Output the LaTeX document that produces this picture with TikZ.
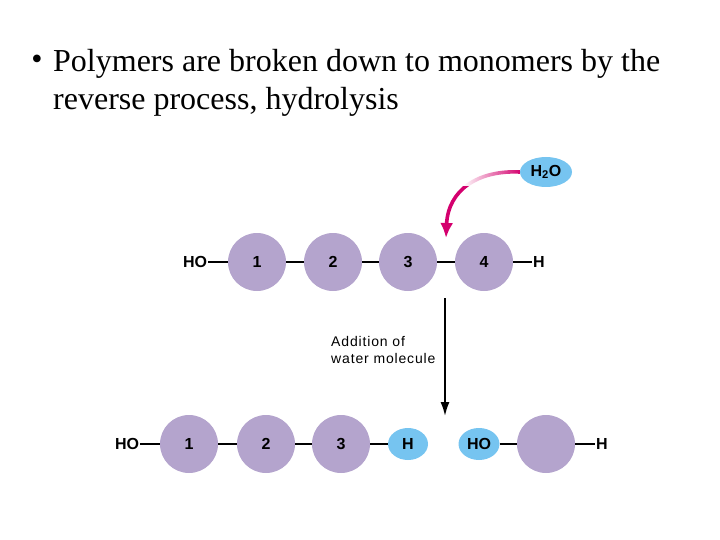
\documentclass[tikz,border=0pt]{standalone}
\usepackage{fontspec}
\setmainfont{Liberation Serif}
\newfontfamily\arialfont{Liberation Sans}
\newfontfamily\arialwide[LetterSpace=6]{Liberation Sans}
\usetikzlibrary{positioning, arrows.meta, shapes.geometric, fadings}
\definecolor{monolilac}{RGB}{180, 164, 205}
\definecolor{waterblue}{RGB}{118, 196, 240}
\definecolor{dropmagenta}{RGB}{212, 0, 110}

\begin{document}
\begin{tikzpicture}[x=1pt, y=-1pt,
        mono/.style={circle, fill=monolilac, minimum size=58pt, inner sep=0pt,
            font=\arialfont\bfseries\fontsize{16}{16}\selectfont},
        wbub/.style={ellipse, fill=waterblue, minimum width=41pt, minimum height=32pt,
            inner sep=0pt, font=\arialfont\bfseries\fontsize{16}{16}\selectfont},
        grp/.style={inner sep=1pt, font=\arialfont\bfseries\fontsize{16}{16}\selectfont},
        bond/.style={line width=1.2pt}
    ]
    \useasboundingbox (0,0) rectangle (720,540);

    % === Title ===
    \node[font=\fontsize{32}{38}\selectfont, inner sep=0pt] (dot) at (37,62) {\textbullet};
    \node[font=\fontsize{32}{38}\selectfont, inner sep=0pt, anchor=north west,
          align=left] (title) at (53,49)
        {Polymers are broken down to monomers by the\\reverse process, hydrolysis};

    % === Polymer (top row) ===
    \node[grp] (ho) at (195,262) {HO};
    \node[mono] (m1) at (257,262) {1};
    \node[mono] (m2) at (333,262) {2};
    \node[mono] (m3) at (408,262) {3};
    \node[mono] (m4) at (484,262) {4};
    \node[grp] (h) at (539,262) {H};
    \draw[bond] (ho) -- (m1);
    \draw[bond] (m1) -- (m2);
    \draw[bond] (m2) -- (m3);
    \draw[bond] (m3) -- (m4);
    \draw[bond] (m4) -- (h);

    % === Water coming in ===
    \node[wbub, minimum width=52pt, minimum height=30pt] (water) at (546,172)
        {H\textsubscript{2}O};
    \coordinate (drop) at (446,238);
    \draw[-{Latex[length=15pt, width=13pt]}, line width=3.6pt, dropmagenta]
        (water.west) .. controls (478,170) and (448,190) .. (drop);
    \fill[white, path fading=east] (462,158) rectangle (521,186);

    % === Reaction arrow ===
    \coordinate (rtop) at (445,298);
    \coordinate (rbot) at (445,417);
    \draw[-{Latex[length=15pt, width=9pt]}, line width=2.8pt] (rtop) -- (rbot);
    \node[anchor=west, align=left, inner sep=0pt,
          font=\arialwide\fontsize{14}{16.5}\selectfont] (addlbl) at (331,350)
        {Addition of\\water molecule};

    % === Products (bottom row) ===
    \node[grp] (bho) at (127,444) {HO};
    \node[mono] (b1) at (189,444) {1};
    \node[mono] (b2) at (266,444) {2};
    \node[mono] (b3) at (341,444) {3};
    \node[wbub, minimum width=40pt] (bh) at (408,444) {H};
    \node[wbub] (bho2) at (479,444) {HO};
    \node[mono] (b4) at (546,444) {};
    \node[grp] (bhend) at (602,444) {H};
    \draw[bond] (bho) -- (b1);
    \draw[bond] (b1) -- (b2);
    \draw[bond] (b2) -- (b3);
    \draw[bond] (b3) -- (bh);
    \draw[bond] (bho2) -- (b4);
    \draw[bond] (b4) -- (bhend);

\end{tikzpicture}
\end{document}
